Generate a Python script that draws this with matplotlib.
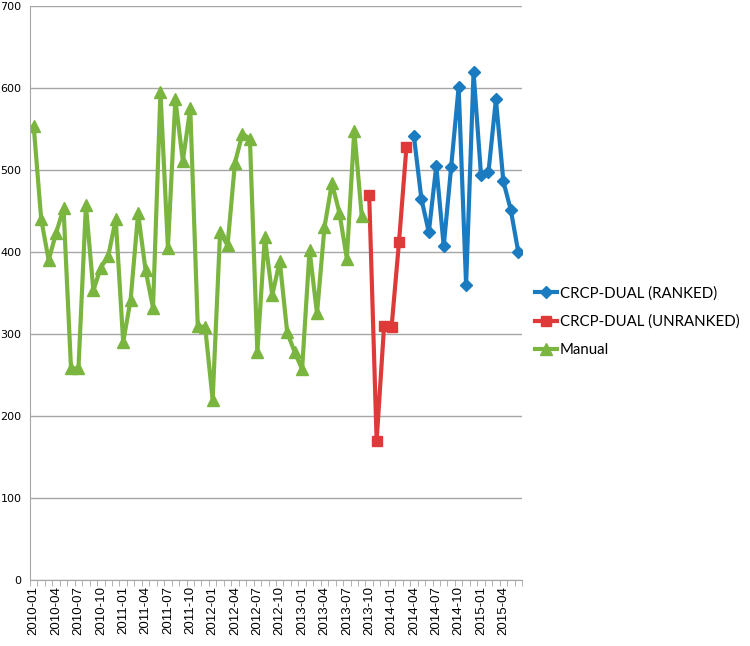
import matplotlib
matplotlib.use("Agg")
import matplotlib.pyplot as plt
import numpy as np

# meses 2010-01 .. 2015-06
months = ["%d-%02d" % (2010 + m // 12, m % 12 + 1) for m in range(66)]

manual = [553, 440, 390, 423, 453, 258, 258, 457, 353, 381, 395, 440,
          290, 342, 447, 378, 332, 595, 405, 586, 511, 575, 310, 308,
          220, 424, 408, 509, 544, 538, 278, 418, 347, 389, 302, 278,
          257, 402, 325, 430, 484, 448, 392, 548, 444]
unranked = [470, 170, 310, 308, 412, 528]
ranked = [541, 465, 424, 505, 407, 504, 601, 360, 619, 494, 497, 586,
          486, 451, 400]

x_manual = np.arange(len(manual))
x_unranked = np.arange(len(unranked)) + len(manual)
x_ranked = np.arange(len(ranked)) + len(manual) + len(unranked)

fig = plt.figure(figsize=(7.5, 6.46), dpi=100)
ax = fig.add_axes([0.04, 0.102, 0.656, 0.889])

ax.plot(x_ranked, ranked, color="#1a7bc0", lw=3, marker="D", ms=6,
        label="CRCP-DUAL (RANKED)")
ax.plot(x_unranked, unranked, color="#de3a3a", lw=3, marker="s", ms=7.5,
        label="CRCP-DUAL (UNRANKED)")
ax.plot(x_manual, manual, color="#7ab53f", lw=3, marker="^", ms=8.5,
        label="Manual")

ax.set_xlim(-0.5, len(months) - 0.5)
ax.set_ylim(0, 700)
ax.set_yticks(range(0, 701, 100))
ax.grid(axis="y", color="#a6a6a6", lw=1)
ax.set_axisbelow(True)

ax.set_xticks(np.arange(0, len(months), 3))
ax.set_xticklabels(months[::3], rotation=90, fontsize=9.5, family="Liberation Sans")
ax.set_xticks(np.arange(-0.5, len(months), 1), minor=True)
ax.tick_params(axis="x", which="major", length=0, pad=4)
ax.tick_params(axis="x", which="minor", length=4, color="#a6a6a6", direction="out")
ax.tick_params(axis="y", length=0, labelsize=8, pad=6)

for s in ["top", "right"]:
    ax.spines[s].set_visible(False)
ax.spines["left"].set_color("#a6a6a6")
ax.spines["bottom"].set_color("#a6a6a6")

leg = fig.legend(loc="center left", bbox_to_anchor=(0.697, 0.502), frameon=False,
                 prop={"family": "Lato", "size": 10.8}, handlelength=1.5,
                 handletextpad=0.15, labelspacing=0.95, borderpad=0.3)

fig.savefig("out.png", dpi=100)
